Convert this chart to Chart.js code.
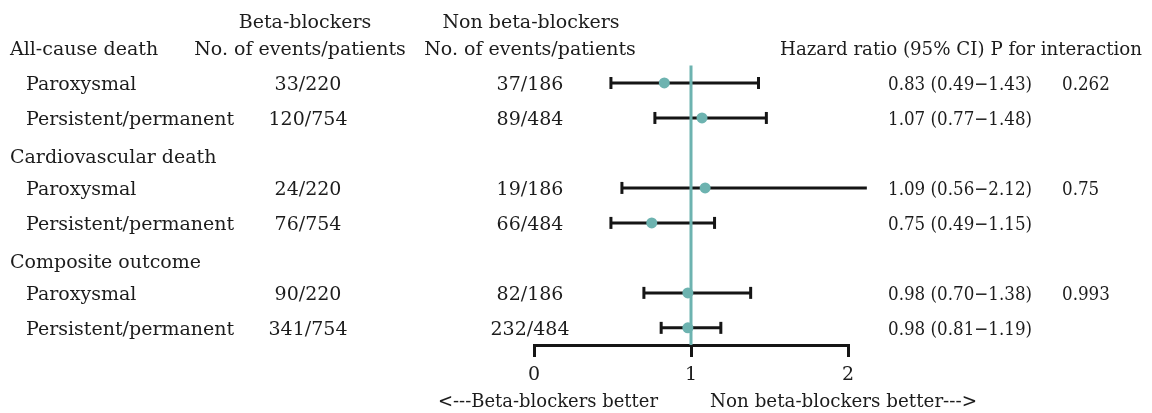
<!DOCTYPE html>
<html>
<head>
<meta charset="utf-8">
<script src="https://cdn.jsdelivr.net/npm/chart.js@4"></script>
<style>
  html, body { margin: 0; padding: 0; background: #ffffff; }
  #forest { display: block; }
</style>
</head>
<body>
<canvas id="forest" width="1152" height="413"></canvas>
<script>
// Outcomes and atrial fibrillation subtypes
const outcomes = ['All-cause death', 'Cardiovascular death', 'Composite outcome'];
const subtypes = ['Paroxysmal', 'Persistent/permanent'];

// Events / patients per subgroup (outcome x subtype, in reading order)
const betaBlockerEvents = ['33/220', '120/754', '24/220', '76/754', '90/220', '341/754'];
const nonBetaBlockerEvents = ['37/186', '89/484', '19/186', '66/484', '82/186', '232/484'];

// Hazard ratios with 95% confidence intervals
const hazardRatio = [0.83, 1.07, 1.09, 0.75, 0.98, 0.98];
const ciLower = [0.49, 0.77, 0.56, 0.49, 0.70, 0.81];
const ciUpper = [1.43, 1.48, 2.12, 1.15, 1.38, 1.19];

// P for interaction, one per outcome
const pInteraction = ['0.262', '0.75', '0.993'];

// Axis ticks and null-effect reference
const axisTicks = [0, 1, 2];
const nullEffect = 1;

const FONT = '19px "DejaVu Serif", serif';
const TEXT = '#1c1c1c';
const TEAL = '#6db3b0';
const INK = '#151515';

// Row layout: each outcome has a header row followed by its two subtype rows
const headerRow = [];
const subRow = [];
outcomes.forEach((o, g) => {
  headerRow.push(g * 3 + (g > 0 ? 0.1 : 0));
  subtypes.forEach((s, k) => subRow.push(g * 3 + 1 + k));
});

const ciDatasets = hazardRatio.map((h, i) => ({
  type: 'line',
  data: [{ x: ciLower[i], y: subRow[i] }, { x: ciUpper[i], y: subRow[i] }],
  borderColor: INK,
  borderWidth: 3,
  pointRadius: 0,
  clip: false,
  order: 4
}));

const capDataset = {
  type: 'scatter',
  data: hazardRatio.flatMap((h, i) => [
    { x: ciLower[i], y: subRow[i] },
    { x: ciUpper[i], y: subRow[i] }
  ]),
  pointStyle: 'line',
  rotation: 90,
  radius: 6,
  borderColor: INK,
  borderWidth: 3,
  clip: false,
  order: 3
};

const refDataset = {
  type: 'line',
  data: [{ x: nullEffect, y: 0.5 }, { x: nullEffect, y: 8.49 }],
  borderColor: TEAL,
  borderWidth: 3,
  pointRadius: 0,
  clip: false,
  order: 2
};

const pointDataset = {
  type: 'scatter',
  data: hazardRatio.map((h, i) => ({ x: h, y: subRow[i] })),
  pointStyle: 'circle',
  radius: 5.5,
  backgroundColor: TEAL,
  borderWidth: 0,
  clip: false,
  order: 1
};

const fmt = v => v.toFixed(2);

// Table text drawn around the plot
const tableText = {
  id: 'tableText',
  afterDraw(chart) {
    const { ctx, scales } = chart;
    const ys = scales.y, xs = scales.x;
    const capShift = 7; // alphabetic baseline below the visual text centre
    const put = (txt, x, y, align, maxW) => {
      ctx.textAlign = align;
      if (maxW) ctx.fillText(txt, x, y + capShift, maxW);
      else ctx.fillText(txt, x, y + capShift);
    };
    // numeric columns are set slightly narrower
    const putNarrow = (txt, x, y) => {
      ctx.save();
      ctx.translate(x, y + capShift);
      ctx.scale(0.88, 1);
      ctx.textAlign = 'left';
      ctx.fillText(txt, 0, 0);
      ctx.restore();
    };
    ctx.save();
    ctx.font = FONT;
    ctx.fillStyle = TEXT;
    ctx.textBaseline = 'alphabetic';

    const top = ys.getPixelForValue(0);
    // Column headings
    put('Beta-blockers', 305, top - 27, 'center');
    put('No. of events/patients', 300, top, 'center');
    put('Non beta-blockers', 531, top - 27, 'center');
    put('No. of events/patients', 530, top, 'center');
    put('Hazard ratio (95% CI) P for interaction', 780, top, 'left', 362);

    outcomes.forEach((o, g) => {
      put(o, 10, ys.getPixelForValue(headerRow[g]), 'left');
    });
    hazardRatio.forEach((h, i) => {
      const y = ys.getPixelForValue(subRow[i]);
      put(subtypes[i % 2], 26, y, 'left');
      put(betaBlockerEvents[i], 308, y, 'center');
      put(nonBetaBlockerEvents[i], 530, y, 'center');
      putNarrow(fmt(h) + ' (' + fmt(ciLower[i]) + '\u2212' + fmt(ciUpper[i]) + ')', 888, y);
      if (i % 2 === 0) putNarrow(pInteraction[i / 2], 1062, y);
    });

    // Direction labels under the axis
    const mid = xs.getPixelForValue(nullEffect);
    put('<---Beta-blockers better', mid - 33, 400, 'right', 220);
    put('Non beta-blockers better--->', mid + 19, 400, 'left', 267);
    ctx.restore();
  }
};

new Chart(document.getElementById('forest'), {
  data: { datasets: [...ciDatasets, capDataset, refDataset, pointDataset] },
  options: {
    responsive: false,
    devicePixelRatio: 1,
    animation: false,
    events: [],
    layout: { padding: { left: 534, right: 304, top: 48, bottom: 0 } },
    plugins: { legend: { display: false }, tooltip: { enabled: false } },
    scales: {
      x: {
        type: 'linear',
        min: axisTicks[0],
        max: axisTicks[axisTicks.length - 1],
        z: 1,
        afterFit(scale) { scale.height = 68; },
        afterBuildTicks(scale) { scale.ticks = axisTicks.map(v => ({ value: v })); },
        border: { display: true, color: INK, width: 3 },
        grid: { drawOnChartArea: false, drawTicks: true, tickLength: 12, color: INK, lineWidth: 3 },
        ticks: { color: TEXT, padding: 7, font: { family: '"DejaVu Serif", serif', size: 19 } }
      },
      y: {
        type: 'linear',
        display: false,
        reverse: true,
        min: 0,
        max: 8.49
      }
    }
  },
  plugins: [tableText]
});
</script>
</body>
</html>
